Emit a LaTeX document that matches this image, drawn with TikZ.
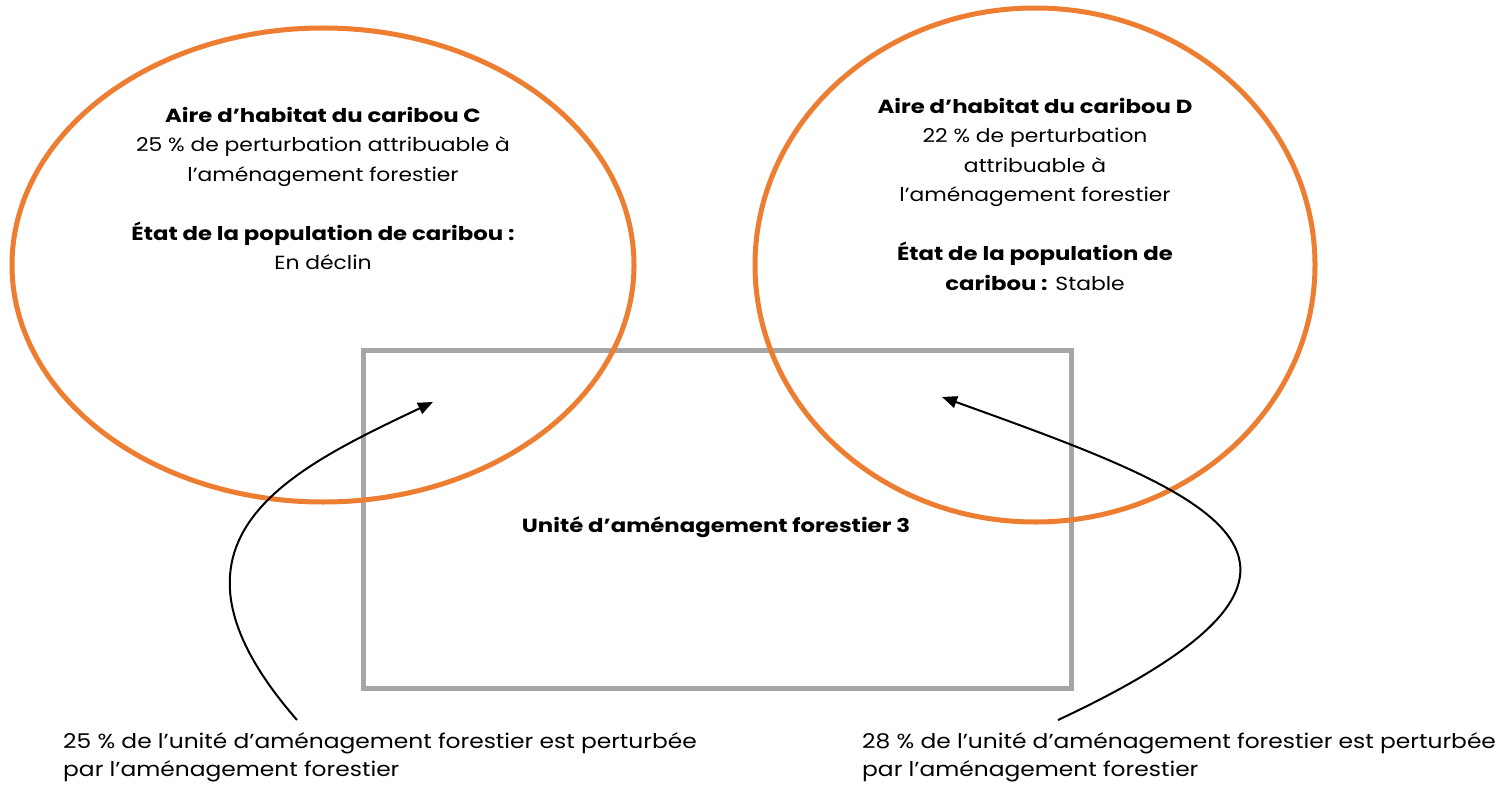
\documentclass[tikz,border=0pt]{standalone}
\usepackage{fontspec}
\setmainfont{Poppins}[FakeStretch=1.15,BoldFeatures={FakeStretch=1.2}]
\usetikzlibrary{arrows.meta,shapes.geometric}
\definecolor{orng}{HTML}{ED7D31}
\definecolor{grayb}{HTML}{A6A6A6}
\tikzset{
  habitat/.style={draw=orng,line width=5pt,ellipse,inner sep=0pt},
  unitbox/.style={draw=grayb,line width=5pt,inner sep=0pt},
  txt/.style={align=center,inner sep=0pt,font={\fontsize{19}{29.5}\selectfont}},
  lowtxt/.style={align=left,inner sep=0pt,anchor=north west,font={\fontsize{20.3}{28}\selectfont}},
  pointer/.style={line width=2pt,-{Triangle[length=15pt,width=12pt]}}
}
\begin{document}
\begin{tikzpicture}[x=1pt,y=-1pt]
\useasboundingbox (0,0) rectangle (1510,789);
\node[unitbox,minimum width=708pt,minimum height=338pt] (u) at (717,519) {};
\node[habitat,minimum width=622pt,minimum height=474pt] (c) at (323,265) {};
\node[habitat,minimum width=560pt,minimum height=514pt] (d) at (1035,265) {};
\node[txt,anchor=north] (tc) at (323,107) {\textbf{Aire d’habitat du caribou C}\\25 \% de perturbation attribuable à\\l’aménagement forestier\\[29.5pt]\textbf{État de la population de caribou :}\\En déclin};
\node[txt,anchor=north] (td) at (1035,98) {\textbf{Aire d’habitat du caribou D}\\22 \% de perturbation\\attribuable à\\l’aménagement forestier\\[29.5pt]\textbf{État de la population de}\\\textbf{caribou :} Stable};
\node[txt,font={\bfseries\fontsize{19}{29.5}\selectfont}] (tu) at (716,527) {Unité d’aménagement forestier 3};
\node[lowtxt] (bl) at (63,732) {25 \% de l’unité d’aménagement forestier est perturbée\\par l’aménagement forestier};
\node[lowtxt] (br) at (862,732) {28 \% de l’unité d’aménagement forestier est perturbée\\par l’aménagement forestier};
\coordinate (sl) at (297,720);
\coordinate (el) at (433,402);
\coordinate (sr) at (1058,720);
\coordinate (er) at (942,397);
\draw[pointer] (sl) .. controls (140,540) and (290,470) .. (el);
\draw[pointer] (sr) .. controls (1400,560) and (1200,490) .. (er);
\end{tikzpicture}
\end{document}
